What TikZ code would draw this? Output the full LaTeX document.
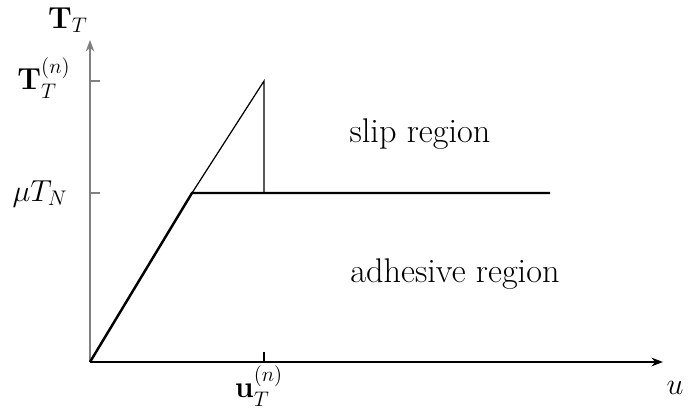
\documentclass[tikz,border=0pt]{standalone}
\usepackage{amsmath}
\usepackage{xcolor}
\usetikzlibrary{arrows.meta, positioning}
\definecolor{axisgray}{HTML}{808080}

\begin{document}
\begin{tikzpicture}[
  x=0.02cm, y=-0.02cm,
  >=Stealth,
  axis/.style={->, line width=0.8pt},
  thick line/.style={line width=1.4pt, black},
  thin line/.style={line width=0.7pt, black},
  tick/.style={line width=0.6pt},
  lbl/.style={font=\fontsize{17.5}{21}\selectfont, inner sep=1pt},
  region/.style={font=\fontsize{19.5}{23}\selectfont, inner sep=1pt}
]
\useasboundingbox (0,0) rectangle (692,413);

% ---- Key points ----
\coordinate (O) at (90,362);
\coordinate (ytop) at (90,40);
\coordinate (xend) at (663,362);
\coordinate (K) at (192,193);
\coordinate (P) at (264,81);
\coordinate (F) at (264,193);
\coordinate (E) at (550,193);
\coordinate (ymu) at (90,193);
\coordinate (yn) at (90,81);
\coordinate (xn) at (264,362);

% ---- Axes ----
\draw[axis, axisgray] (O) -- (ytop);
\draw[axis, black] (O) -- (xend);

% ---- Ticks ----
\draw[tick, axisgray] (yn) -- ++(10,0);
\draw[tick, axisgray] (ymu) -- ++(10,0);
\draw[tick, black] (xn) -- ++(0,-10);

% ---- Curves ----
\draw[thick line] (O) -- (K) -- (E);
\draw[thin line] (K) -- (P) -- (F);

% ---- Labels ----
\node[lbl] (lTT) at (68,20) {$\mathbf{T}_T$};
\node[lbl] (lTn) at (44,78) {$\mathbf{T}_T^{(n)}$};
\node[lbl] (lmu) at (40,194) {$\mu T_N$};
\node[lbl] (lun) at (259,386) {$\mathbf{u}_T^{(n)}$};
\node[lbl] (lu) at (675,388) {$u$};
\node[region] (slip) at (420,134) {slip region};
\node[region] (adh) at (455,274) {adhesive region};

\end{tikzpicture}
\end{document}
